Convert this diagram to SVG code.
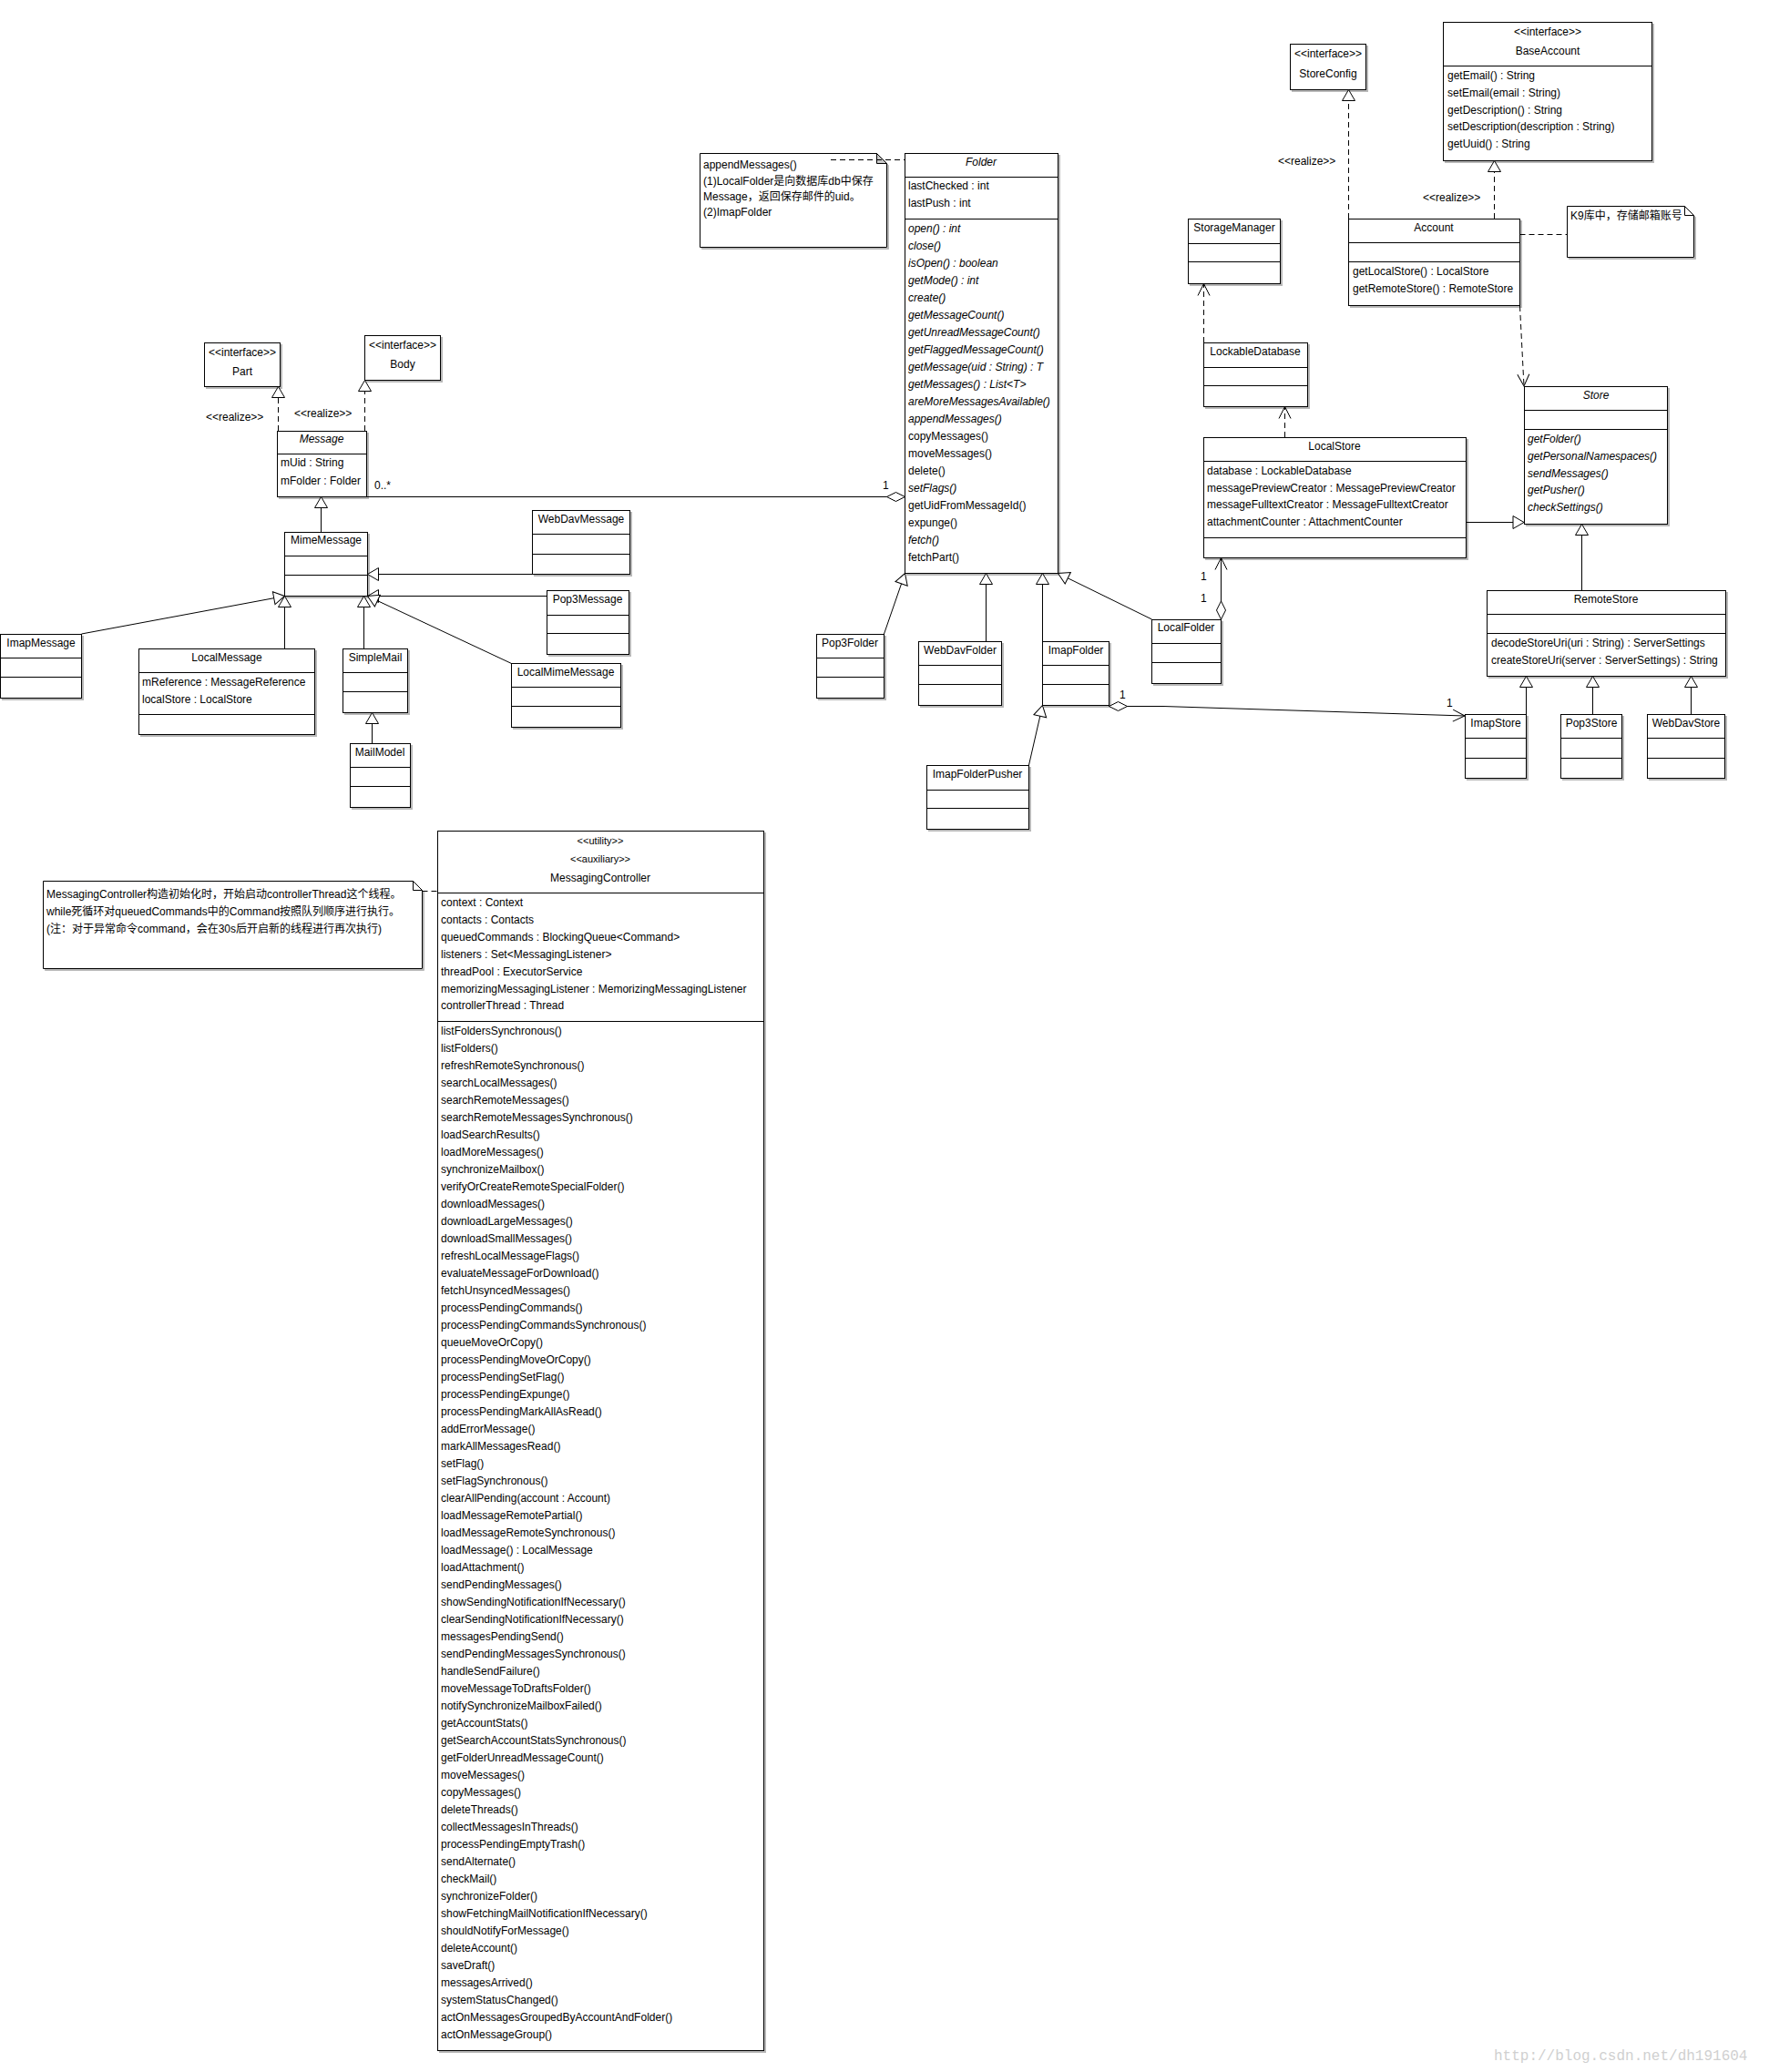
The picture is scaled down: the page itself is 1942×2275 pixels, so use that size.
<svg xmlns="http://www.w3.org/2000/svg" width="1942" height="2275" viewBox="0 0 1942 2275">
<style>
.b{fill:#fff;stroke:#000;stroke-width:1;filter:url(#sh)}
.n{fill:#fff;stroke:#000;stroke-width:1}
.dv{stroke:#000;stroke-width:1}
text{font-family:"Liberation Sans",Arial,"Noto Sans CJK SC",sans-serif;font-size:12px;fill:#000}
.c{text-anchor:middle}
.i{font-style:italic}
.s{font-size:11px}
.ln{fill:none;stroke:#000;stroke-width:1}
.dash{stroke-dasharray:6,4}
.g{marker-end:url(#gen)}
.a{marker-end:url(#arr)}
.wm{font-family:"Liberation Mono",monospace;font-size:16px;fill:#d0d0d0}
</style>
<defs>
<filter id="sh" x="-5%" y="-5%" width="115%" height="115%">
<feFlood flood-color="#b8b8b8"/>
<feComposite in2="SourceAlpha" operator="in"/>
<feOffset dx="2" dy="2"/>
<feMerge><feMergeNode/><feMergeNode in="SourceGraphic"/></feMerge>
</filter>
<marker id="gen" markerUnits="userSpaceOnUse" viewBox="-1 -1 15 16" markerWidth="15" markerHeight="16" refX="12" refY="7" orient="auto" overflow="visible"><path d="M0,0 L12,7 L0,14 Z" fill="#fff" stroke="#000" stroke-dasharray="none"/></marker>
<marker id="arr" markerUnits="userSpaceOnUse" viewBox="-1 -1 15 15" markerWidth="15" markerHeight="15" refX="13" refY="6.5" orient="auto" overflow="visible"><path d="M0,0 L13,6.5 L0,13" fill="none" stroke="#000" stroke-dasharray="none"/></marker>
<marker id="dia" markerUnits="userSpaceOnUse" viewBox="-1 -1 22 12" markerWidth="22" markerHeight="12" refX="0" refY="5" orient="auto" overflow="visible"><path d="M0,5 L10,0 L20,5 L10,10 Z" fill="#fff" stroke="#000" stroke-dasharray="none"/></marker>
</defs>
<rect width="1942" height="2275" fill="#fff"/>

<g id="Part">
<rect class="b" x="224.5" y="376.5" width="83" height="48"/>
<text class="c" x="266" y="391">&lt;&lt;interface&gt;&gt;</text>
<text class="c" x="266" y="412">Part</text>
</g>
<g id="Body">
<rect class="b" x="400.5" y="368.5" width="83" height="49"/>
<text class="c" x="442" y="383">&lt;&lt;interface&gt;&gt;</text>
<text class="c" x="442" y="404">Body</text>
</g>
<g id="Message">
<rect class="b" x="304.5" y="473.5" width="98" height="72"/>
<line class="dv" x1="304.5" y1="498.5" x2="402.5" y2="498.5"/>
<text class="c i" x="353" y="486">Message</text>
<text x="308" y="512">mUid : String</text>
<text x="308" y="532">mFolder : Folder</text>
</g>
<g id="MimeMessage">
<rect class="b" x="312.5" y="584.5" width="91" height="70"/>
<line class="dv" x1="312.5" y1="610.5" x2="403.5" y2="610.5"/>
<line class="dv" x1="312.5" y1="631.5" x2="403.5" y2="631.5"/>
<text class="c" x="358" y="597">MimeMessage</text>
</g>
<g id="WebDavMessage">
<rect class="b" x="584.5" y="560.5" width="107" height="70"/>
<line class="dv" x1="584.5" y1="586.5" x2="691.5" y2="586.5"/>
<line class="dv" x1="584.5" y1="608.5" x2="691.5" y2="608.5"/>
<text class="c" x="638" y="574">WebDavMessage</text>
</g>
<g id="Pop3Message">
<rect class="b" x="600.5" y="648.5" width="90" height="70"/>
<line class="dv" x1="600.5" y1="675.5" x2="690.5" y2="675.5"/>
<line class="dv" x1="600.5" y1="695.5" x2="690.5" y2="695.5"/>
<text class="c" x="645" y="662">Pop3Message</text>
</g>
<g id="ImapMessage">
<rect class="b" x="0.5" y="696.5" width="89" height="70"/>
<line class="dv" x1="0.5" y1="722.5" x2="89.5" y2="722.5"/>
<line class="dv" x1="0.5" y1="743.5" x2="89.5" y2="743.5"/>
<text class="c" x="45" y="710">ImapMessage</text>
</g>
<g id="LocalMessage">
<rect class="b" x="152.5" y="712.5" width="193" height="94"/>
<line class="dv" x1="152.5" y1="738.5" x2="345.5" y2="738.5"/>
<line class="dv" x1="152.5" y1="784.5" x2="345.5" y2="784.5"/>
<text class="c" x="249" y="726">LocalMessage</text>
<text x="156" y="753">mReference : MessageReference</text>
<text x="156" y="772">localStore : LocalStore</text>
</g>
<g id="SimpleMail">
<rect class="b" x="376.5" y="712.5" width="71" height="70"/>
<line class="dv" x1="376.5" y1="738.5" x2="447.5" y2="738.5"/>
<line class="dv" x1="376.5" y1="759.5" x2="447.5" y2="759.5"/>
<text class="c" x="412" y="726">SimpleMail</text>
</g>
<g id="MailModel">
<rect class="b" x="384.5" y="816.5" width="66" height="70"/>
<line class="dv" x1="384.5" y1="842.5" x2="450.5" y2="842.5"/>
<line class="dv" x1="384.5" y1="863.5" x2="450.5" y2="863.5"/>
<text class="c" x="417" y="830">MailModel</text>
</g>
<g id="LocalMimeMessage">
<rect class="b" x="561.5" y="728.5" width="120" height="70"/>
<line class="dv" x1="561.5" y1="754.5" x2="681.5" y2="754.5"/>
<line class="dv" x1="561.5" y1="775.5" x2="681.5" y2="775.5"/>
<text class="c" x="621" y="742">LocalMimeMessage</text>
</g>

<g id="FolderNote">
<path class="b" d="M768.5,168.5 H962.5 L973.5,179.5 V271.5 H768.5 Z"/>
<path d="M962.5,168.5 V179.5 H973.5 Z" fill="#c8c8c8" stroke="#000"/>
<text x="772" y="185">appendMessages()</text>
<text x="772" y="203">(1)LocalFolder是向数据库db中保存</text>
<text x="772" y="220">Message，返回保存邮件的uid。</text>
<text x="772" y="237">(2)ImapFolder</text>
</g>
<g id="Folder">
<rect class="b" x="993.5" y="168.5" width="168" height="461"/>
<line class="dv" x1="993.5" y1="194.5" x2="1161.5" y2="194.5"/>
<line class="dv" x1="993.5" y1="240.5" x2="1161.5" y2="240.5"/>
<text class="c i" x="1077" y="182">Folder</text>
<text x="997" y="208">lastChecked : int</text>
<text x="997" y="227">lastPush : int</text>
<text class="i" x="997" y="255">open() : int</text>
<text class="i" x="997" y="274">close()</text>
<text class="i" x="997" y="293">isOpen() : boolean</text>
<text class="i" x="997" y="312">getMode() : int</text>
<text class="i" x="997" y="331">create()</text>
<text class="i" x="997" y="350">getMessageCount()</text>
<text class="i" x="997" y="369">getUnreadMessageCount()</text>
<text class="i" x="997" y="388">getFlaggedMessageCount()</text>
<text class="i" x="997" y="407">getMessage(uid : String) : T</text>
<text class="i" x="997" y="426">getMessages() : List&lt;T&gt;</text>
<text class="i" x="997" y="445">areMoreMessagesAvailable()</text>
<text class="i" x="997" y="464">appendMessages()</text>
<text x="997" y="483">copyMessages()</text>
<text x="997" y="502">moveMessages()</text>
<text x="997" y="521">delete()</text>
<text class="i" x="997" y="540">setFlags()</text>
<text x="997" y="559">getUidFromMessageId()</text>
<text x="997" y="578">expunge()</text>
<text class="i" x="997" y="597">fetch()</text>
<text x="997" y="616">fetchPart()</text>
</g>
<g id="Pop3Folder">
<rect class="b" x="896.5" y="696.5" width="74" height="70"/>
<line class="dv" x1="896.5" y1="722.5" x2="970.5" y2="722.5"/>
<line class="dv" x1="896.5" y1="743.5" x2="970.5" y2="743.5"/>
<text class="c" x="933" y="710">Pop3Folder</text>
</g>
<g id="WebDavFolder">
<rect class="b" x="1008.5" y="704.5" width="91" height="70"/>
<line class="dv" x1="1008.5" y1="730.5" x2="1099.5" y2="730.5"/>
<line class="dv" x1="1008.5" y1="751.5" x2="1099.5" y2="751.5"/>
<text class="c" x="1054" y="718">WebDavFolder</text>
</g>
<g id="ImapFolder">
<rect class="b" x="1144.5" y="704.5" width="73" height="70"/>
<line class="dv" x1="1144.5" y1="730.5" x2="1217.5" y2="730.5"/>
<line class="dv" x1="1144.5" y1="751.5" x2="1217.5" y2="751.5"/>
<text class="c" x="1181" y="718">ImapFolder</text>
</g>
<g id="ImapFolderPusher">
<rect class="b" x="1017.5" y="840.5" width="112" height="70"/>
<line class="dv" x1="1017.5" y1="867.5" x2="1129.5" y2="867.5"/>
<line class="dv" x1="1017.5" y1="887.5" x2="1129.5" y2="887.5"/>
<text class="c" x="1073" y="854">ImapFolderPusher</text>
</g>
<g id="LocalFolder">
<rect class="b" x="1264.5" y="680.5" width="76" height="70"/>
<line class="dv" x1="1264.5" y1="706.5" x2="1340.5" y2="706.5"/>
<line class="dv" x1="1264.5" y1="727.5" x2="1340.5" y2="727.5"/>
<text class="c" x="1302" y="693">LocalFolder</text>
</g>

<g id="StorageManager">
<rect class="b" x="1304.5" y="240.5" width="101" height="71"/>
<line class="dv" x1="1304.5" y1="267.5" x2="1405.5" y2="267.5"/>
<line class="dv" x1="1304.5" y1="287.5" x2="1405.5" y2="287.5"/>
<text class="c" x="1355" y="254">StorageManager</text>
</g>
<g id="LockableDatabase">
<rect class="b" x="1321.5" y="376.5" width="114" height="70"/>
<line class="dv" x1="1321.5" y1="403.5" x2="1435.5" y2="403.5"/>
<line class="dv" x1="1321.5" y1="423.5" x2="1435.5" y2="423.5"/>
<text class="c" x="1378" y="390">LockableDatabase</text>
</g>
<g id="LocalStore">
<rect class="b" x="1321.5" y="480.5" width="288" height="132"/>
<line class="dv" x1="1321.5" y1="506.5" x2="1609.5" y2="506.5"/>
<line class="dv" x1="1321.5" y1="590.5" x2="1609.5" y2="590.5"/>
<text class="c" x="1465" y="494">LocalStore</text>
<text x="1325" y="521">database : LockableDatabase</text>
<text x="1325" y="540">messagePreviewCreator : MessagePreviewCreator</text>
<text x="1325" y="558">messageFulltextCreator : MessageFulltextCreator</text>
<text x="1325" y="577">attachmentCounter : AttachmentCounter</text>
</g>

<g id="StoreConfig">
<rect class="b" x="1416.5" y="48.5" width="83" height="50"/>
<text class="c" x="1458" y="63">&lt;&lt;interface&gt;&gt;</text>
<text class="c" x="1458" y="85">StoreConfig</text>
</g>
<g id="BaseAccount">
<rect class="b" x="1584.5" y="24.5" width="229" height="152"/>
<line class="dv" x1="1584.5" y1="72.5" x2="1813.5" y2="72.5"/>
<text class="c" x="1699" y="39">&lt;&lt;interface&gt;&gt;</text>
<text class="c" x="1699" y="60">BaseAccount</text>
<text x="1589" y="87">getEmail() : String</text>
<text x="1589" y="106">setEmail(email : String)</text>
<text x="1589" y="125">getDescription() : String</text>
<text x="1589" y="143">setDescription(description : String)</text>
<text x="1589" y="162">getUuid() : String</text>
</g>
<g id="Account">
<rect class="b" x="1480.5" y="240.5" width="188" height="95"/>
<line class="dv" x1="1480.5" y1="266.5" x2="1668.5" y2="266.5"/>
<line class="dv" x1="1480.5" y1="287.5" x2="1668.5" y2="287.5"/>
<text class="c" x="1574" y="254">Account</text>
<text x="1485" y="302">getLocalStore() : LocalStore</text>
<text x="1485" y="321">getRemoteStore() : RemoteStore</text>
</g>
<g id="AccountNote">
<path class="b" d="M1720.5,226.5 H1849.5 L1859.5,236.5 V282.5 H1720.5 Z"/>
<path d="M1849.5,226.5 V236.5 H1859.5" fill="none" stroke="#000"/>
<text x="1724" y="241">K9库中，存储邮箱账号</text>
</g>
<g id="Store">
<rect class="b" x="1673.5" y="424.5" width="157" height="151"/>
<line class="dv" x1="1673.5" y1="450.5" x2="1830.5" y2="450.5"/>
<line class="dv" x1="1673.5" y1="471.5" x2="1830.5" y2="471.5"/>
<text class="c i" x="1752" y="438">Store</text>
<text class="i" x="1677" y="486">getFolder()</text>
<text class="i" x="1677" y="505">getPersonalNamespaces()</text>
<text class="i" x="1677" y="524">sendMessages()</text>
<text class="i" x="1677" y="542">getPusher()</text>
<text class="i" x="1677" y="561">checkSettings()</text>
</g>
<g id="RemoteStore">
<rect class="b" x="1632.5" y="648.5" width="262" height="94"/>
<line class="dv" x1="1632.5" y1="674.5" x2="1894.5" y2="674.5"/>
<line class="dv" x1="1632.5" y1="695.5" x2="1894.5" y2="695.5"/>
<text class="c" x="1763" y="662">RemoteStore</text>
<text x="1637" y="710">decodeStoreUri(uri : String) : ServerSettings</text>
<text x="1637" y="729">createStoreUri(server : ServerSettings) : String</text>
</g>
<g id="ImapStore">
<rect class="b" x="1608.5" y="784.5" width="67" height="70"/>
<line class="dv" x1="1608.5" y1="810.5" x2="1675.5" y2="810.5"/>
<line class="dv" x1="1608.5" y1="832.5" x2="1675.5" y2="832.5"/>
<text class="c" x="1642" y="798">ImapStore</text>
</g>
<g id="Pop3Store">
<rect class="b" x="1713.5" y="784.5" width="67" height="70"/>
<line class="dv" x1="1713.5" y1="810.5" x2="1780.5" y2="810.5"/>
<line class="dv" x1="1713.5" y1="832.5" x2="1780.5" y2="832.5"/>
<text class="c" x="1747" y="798">Pop3Store</text>
</g>
<g id="WebDavStore">
<rect class="b" x="1808.5" y="784.5" width="85" height="70"/>
<line class="dv" x1="1808.5" y1="810.5" x2="1893.5" y2="810.5"/>
<line class="dv" x1="1808.5" y1="832.5" x2="1893.5" y2="832.5"/>
<text class="c" x="1851" y="798">WebDavStore</text>
</g>

<g id="ControllerNote">
<path class="b" d="M47.5,967.5 H453.5 L463.5,977.5 V1063.5 H47.5 Z"/>
<path d="M453.5,967.5 V977.5 H463.5" fill="none" stroke="#000"/>
<text x="51" y="986">MessagingController构造初始化时，开始启动controllerThread这个线程。</text>
<text x="51" y="1005">while死循环对queuedCommands中的Command按照队列顺序进行执行。</text>
<text x="51" y="1024">(注：对于异常命令command，会在30s后开启新的线程进行再次执行)</text>
</g>
<g id="MessagingController">
<rect class="b" x="480.5" y="912.5" width="358" height="1339"/>
<line class="dv" x1="480.5" y1="980.5" x2="838.5" y2="980.5"/>
<line class="dv" x1="480.5" y1="1121.5" x2="838.5" y2="1121.5"/>
<text class="c s" x="659" y="927">&lt;&lt;utility&gt;&gt;</text>
<text class="c s" x="659" y="947">&lt;&lt;auxiliary&gt;&gt;</text>
<text class="c" x="659" y="968">MessagingController</text>
<text x="484" y="995">context : Context</text>
<text x="484" y="1014">contacts : Contacts</text>
<text x="484" y="1033">queuedCommands : BlockingQueue&lt;Command&gt;</text>
<text x="484" y="1052">listeners : Set&lt;MessagingListener&gt;</text>
<text x="484" y="1071">threadPool : ExecutorService</text>
<text x="484" y="1090">memorizingMessagingListener : MemorizingMessagingListener</text>
<text x="484" y="1108">controllerThread : Thread</text>
<text x="484" y="1136">listFoldersSynchronous()</text>
<text x="484" y="1155">listFolders()</text>
<text x="484" y="1174">refreshRemoteSynchronous()</text>
<text x="484" y="1193">searchLocalMessages()</text>
<text x="484" y="1212">searchRemoteMessages()</text>
<text x="484" y="1231">searchRemoteMessagesSynchronous()</text>
<text x="484" y="1250">loadSearchResults()</text>
<text x="484" y="1269">loadMoreMessages()</text>
<text x="484" y="1288">synchronizeMailbox()</text>
<text x="484" y="1307">verifyOrCreateRemoteSpecialFolder()</text>
<text x="484" y="1326">downloadMessages()</text>
<text x="484" y="1345">downloadLargeMessages()</text>
<text x="484" y="1364">downloadSmallMessages()</text>
<text x="484" y="1383">refreshLocalMessageFlags()</text>
<text x="484" y="1402">evaluateMessageForDownload()</text>
<text x="484" y="1421">fetchUnsyncedMessages()</text>
<text x="484" y="1440">processPendingCommands()</text>
<text x="484" y="1459">processPendingCommandsSynchronous()</text>
<text x="484" y="1478">queueMoveOrCopy()</text>
<text x="484" y="1497">processPendingMoveOrCopy()</text>
<text x="484" y="1516">processPendingSetFlag()</text>
<text x="484" y="1535">processPendingExpunge()</text>
<text x="484" y="1554">processPendingMarkAllAsRead()</text>
<text x="484" y="1573">addErrorMessage()</text>
<text x="484" y="1592">markAllMessagesRead()</text>
<text x="484" y="1611">setFlag()</text>
<text x="484" y="1630">setFlagSynchronous()</text>
<text x="484" y="1649">clearAllPending(account : Account)</text>
<text x="484" y="1668">loadMessageRemotePartial()</text>
<text x="484" y="1687">loadMessageRemoteSynchronous()</text>
<text x="484" y="1706">loadMessage() : LocalMessage</text>
<text x="484" y="1725">loadAttachment()</text>
<text x="484" y="1744">sendPendingMessages()</text>
<text x="484" y="1763">showSendingNotificationIfNecessary()</text>
<text x="484" y="1782">clearSendingNotificationIfNecessary()</text>
<text x="484" y="1801">messagesPendingSend()</text>
<text x="484" y="1820">sendPendingMessagesSynchronous()</text>
<text x="484" y="1839">handleSendFailure()</text>
<text x="484" y="1858">moveMessageToDraftsFolder()</text>
<text x="484" y="1877">notifySynchronizeMailboxFailed()</text>
<text x="484" y="1896">getAccountStats()</text>
<text x="484" y="1915">getSearchAccountStatsSynchronous()</text>
<text x="484" y="1934">getFolderUnreadMessageCount()</text>
<text x="484" y="1953">moveMessages()</text>
<text x="484" y="1972">copyMessages()</text>
<text x="484" y="1991">deleteThreads()</text>
<text x="484" y="2010">collectMessagesInThreads()</text>
<text x="484" y="2029">processPendingEmptyTrash()</text>
<text x="484" y="2048">sendAlternate()</text>
<text x="484" y="2067">checkMail()</text>
<text x="484" y="2086">synchronizeFolder()</text>
<text x="484" y="2105">showFetchingMailNotificationIfNecessary()</text>
<text x="484" y="2124">shouldNotifyForMessage()</text>
<text x="484" y="2143">deleteAccount()</text>
<text x="484" y="2162">saveDraft()</text>
<text x="484" y="2181">messagesArrived()</text>
<text x="484" y="2200">systemStatusChanged()</text>
<text x="484" y="2219">actOnMessagesGroupedByAccountAndFolder()</text>
<text x="484" y="2238">actOnMessageGroup()</text>
</g>

<g id="connectors">
<path class="ln dash g" d="M305.5,473 V424.5"/>
<path class="ln dash g" d="M400.5,473 V417.5"/>
<text x="226" y="462">&lt;&lt;realize&gt;&gt;</text>
<text x="323" y="458">&lt;&lt;realize&gt;&gt;</text>
<path class="ln" d="M993.5,545.5 H402.5" marker-start="url(#dia)"/>
<text x="411" y="537">0..*</text>
<text x="969" y="537">1</text>
<path class="ln g" d="M352.5,584 V545.5"/>
<path class="ln g" d="M584.5,630.5 H403.5"/>
<path class="ln g" d="M600.5,654.5 H403.5"/>
<path class="ln g" d="M399.5,712 V654.5"/>
<path class="ln g" d="M561.5,728.5 L403.5,654.5"/>
<path class="ln g" d="M89.5,696 L312.5,654.5"/>
<path class="ln g" d="M312.5,712 V654.5"/>
<path class="ln g" d="M408.5,816 V782.5"/>
<path class="ln dash" d="M912,175.5 H993"/>
<path class="ln g" d="M970.5,696 L993.5,629.5"/>
<path class="ln g" d="M1082.5,704 V629.5"/>
<path class="ln g" d="M1144.5,704 V629.5"/>
<path class="ln g" d="M1264.5,680 L1161.5,629.5"/>
<path class="ln g" d="M1129.5,840 L1144.5,774.5"/>
<path class="ln a" d="M1217.5,775.5 H1277 L1608,786" marker-start="url(#dia)"/>
<text x="1229" y="767">1</text>
<text x="1588" y="776">1</text>
<path class="ln a" d="M1340.5,680 V612.5" marker-start="url(#dia)"/>
<text x="1318" y="637">1</text>
<text x="1318" y="661">1</text>
<path class="ln dash a" d="M1410.5,480 V446.5"/>
<path class="ln dash a" d="M1321.5,376 V311.5"/>
<path class="ln g" d="M1609.5,573.5 H1673"/>
<path class="ln dash g" d="M1480.5,240 V98.5"/>
<path class="ln dash g" d="M1640.5,240 V176.5"/>
<text x="1403" y="181">&lt;&lt;realize&gt;&gt;</text>
<text x="1562" y="221">&lt;&lt;realize&gt;&gt;</text>
<path class="ln dash a" d="M1668.5,336 L1673,424"/>
<path class="ln dash" d="M1668.5,257.5 H1720"/>
<path class="ln g" d="M1736.5,648 V575.5"/>
<path class="ln g" d="M1675.5,784 V742.5"/>
<path class="ln g" d="M1748.5,784 V742.5"/>
<path class="ln g" d="M1856.5,784 V742.5"/>
<path class="ln dash" d="M463.5,978.5 H480"/>
</g>
<text class="wm" x="1640" y="2262">http://blog.csdn.net/dh191604</text>
</svg>
